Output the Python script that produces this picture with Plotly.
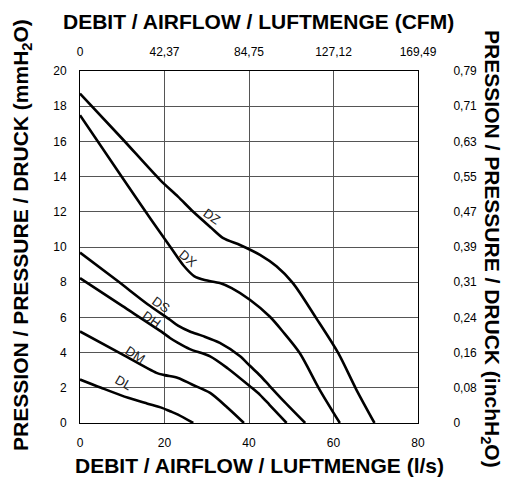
import plotly.graph_objects as go

# ---- data (l/s vs mmH2O) ----
dz_x = [0, 10, 19, 23.2, 26.8, 31, 33.9, 38, 42.6, 46.5, 50.4, 55.9, 61.1, 65.4, 69.7]
dz_y = [18.72, 16.15, 13.8, 12.86, 12.0, 11.1, 10.5, 10.1, 9.55, 8.9, 7.95, 5.96, 3.98, 1.9, 0]

dx_x = [0, 10, 16.6, 21.6, 24.5, 27, 29.5, 33.1, 35.9, 40.2, 44.9, 48, 52.0, 56.7, 61.5]
dx_y = [17.49, 13.95, 11.63, 9.93, 8.95, 8.35, 8.12, 7.95, 7.66, 7.0, 6.05, 5.2, 3.98, 1.9, 0]

ds_x = [0, 9, 16, 21.3, 23.2, 26, 29, 33.1, 37.9, 40.2, 42.6, 44.9, 48, 53.3]
ds_y = [9.68, 8.05, 6.75, 5.87, 5.53, 5.2, 4.95, 4.55, 3.79, 3.25, 2.7, 2.1, 1.3, 0]

dh_x = [0, 10, 19.5, 21.3, 23.2, 26, 30.8, 35, 40.2, 42.6, 44.9, 48.9]
dh_y = [8.23, 6.65, 5.15, 4.83, 4.55, 4.2, 3.79, 3.1, 2.09, 1.6, 1.02, 0]

dm_x = [0, 10, 18.1, 20, 23.2, 26.4, 30.8, 35, 38.8]
dm_y = [5.2, 3.9, 2.85, 2.72, 2.56, 2.2, 1.71, 0.85, 0]

dl_x = [0, 5, 11.4, 16, 19.4, 21.3, 23.2, 26.8]
dl_y = [2.47, 2.0, 1.43, 1.1, 0.86, 0.67, 0.48, 0]

series = [("DZ", dz_x, dz_y), ("DX", dx_x, dx_y), ("DS", ds_x, ds_y),
          ("DH", dh_x, dh_y), ("DM", dm_x, dm_y), ("DL", dl_x, dl_y)]

# curve labels: name, x, y, angle
labels = [("DZ", 31.2, 11.72, 35), ("DX", 25.6, 9.37, 40), ("DS", 19.1, 6.72, 35),
          ("DH", 16.9, 5.87, 35), ("DM", 13.0, 3.88, 33), ("DL", 10.2, 2.28, 30)]

x_ticks = [0, 20, 40, 60, 80]
cfm_labels = ["0", "42,37", "84,75", "127,12", "169,49"]
y_ticks = [0, 2, 4, 6, 8, 10, 12, 14, 16, 18, 20]
inch_labels = ["0", "0,08", "0,16", "0,24", "0,31", "0,39", "0,47", "0,55", "0,63", "0,71", "0,79"]

FONT = "Liberation Sans, Arial, sans-serif"
GRID = "#555555"

fig = go.Figure()
for name, xs, ys in series:
    fig.add_trace(go.Scatter(x=xs, y=ys, mode="lines", name=name,
                             line=dict(color="black", width=2.6, shape="spline", smoothing=0.8),
                             showlegend=False, hoverinfo="skip"))
# invisible traces for secondary axes
fig.add_trace(go.Scatter(x=[0, 80], y=[0, 20], xaxis="x2", yaxis="y2", mode="markers",
                         marker=dict(opacity=0), showlegend=False, hoverinfo="skip"))

for name, lx, ly, ang in labels:
    fig.add_annotation(x=lx, y=ly, text=name, showarrow=False, textangle=ang,
                       font=dict(family=FONT, size=13, color="#222"))

axis_common = dict(showline=True, linecolor="black", linewidth=1, mirror=False, automargin=False,
                   tickfont=dict(family=FONT, size=12, color="black"), zeroline=False)

fig.update_layout(
    width=505, height=479,
    margin=dict(l=80, r=87, t=71, b=56),
    paper_bgcolor="white", plot_bgcolor="white",
    xaxis=dict(range=[0, 80], tickvals=x_ticks, ticktext=[str(v) for v in x_ticks],
               showgrid=True, gridcolor=GRID, gridwidth=1, ticks="", ticklabelstandoff=9,
               **axis_common),
    yaxis=dict(range=[0, 20], tickvals=y_ticks, ticktext=[str(v) for v in y_ticks],
               showgrid=True, gridcolor=GRID, gridwidth=1, ticks="", ticklabelstandoff=10,
               **axis_common),
    xaxis2=dict(range=[0, 80], overlaying="x", side="top", tickvals=x_ticks, ticktext=cfm_labels,
                showgrid=False, ticks="", ticklabelstandoff=9, **axis_common),
    yaxis2=dict(range=[0, 20], overlaying="y", side="right", tickvals=y_ticks, ticktext=inch_labels,
                showgrid=False, ticks="", ticklabelstandoff=32, **axis_common),
)

TF = dict(family=FONT, size=21, color="black")
fig.add_annotation(xref="paper", yref="paper", x=0.527, y=1.14, showarrow=False,
                   text="<b>DEBIT / AIRFLOW / LUFTMENGE (CFM)</b>", font=TF,
                   xanchor="center", yanchor="middle")
fig.add_annotation(xref="paper", yref="paper", x=0.53, y=-0.122, showarrow=False,
                   text="<b>DEBIT / AIRFLOW / LUFTMENGE (l/s)</b>", font=TF,
                   xanchor="center", yanchor="middle")
fig.add_annotation(xref="paper", yref="paper", x=-0.172, y=0.534, showarrow=False, textangle=-90,
                   text="<b>PRESSION / PRESSURE / DRUCK (mmH<sub>2</sub>O)</b>", font=TF,
                   xanchor="center", yanchor="middle")
fig.add_annotation(xref="paper", yref="paper", x=1.216, y=0.494, showarrow=False, textangle=90,
                   text="<b>PRESSION / PRESSURE / DRUCK (inchH<sub>2</sub>O)</b>", font=TF,
                   xanchor="center", yanchor="middle")

fig.write_html("out.html", config={"displayModeBar": False},
               post_script="document.body.style.margin='0';document.body.style.overflow='hidden';")
